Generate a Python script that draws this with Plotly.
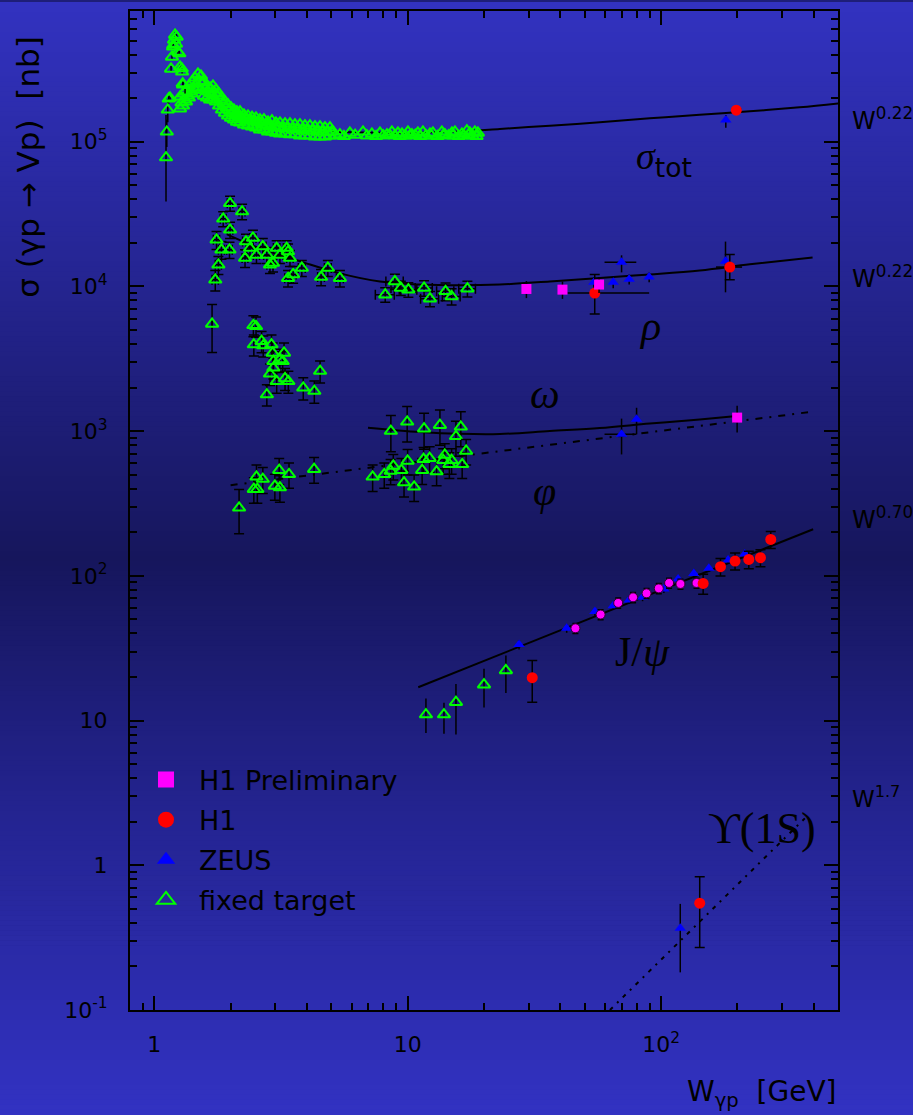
import plotly.graph_objects as go

# ---------------- DATA ----------------
# sigma_tot : fixed target, low-W resonance region
tot_ft_W_low = [1.112, 1.12, 1.13, 1.14, 1.153, 1.164, 1.174, 1.185, 1.196, 1.207, 1.218, 1.24, 1.263,
                1.287, 1.298, 1.322, 1.255, 1.283, 1.294, 1.225, 1.188]
tot_ft_s_low = [77600, 117000, 166000, 198000, 201000, 318000, 385000, 452000, 505000, 547000, 474000,
                417000, 329000, 304000, 247000, 221000, 406000, 320000, 252000, 529000, 465000]
tot_ft_eup_low = [75000, 25000, 30000, 15000, 12000, 15000, 18000, 20000, 22000, 24000, 22000, 20000,
                  16000, 15000, 12000, 11000, 18000, 15000, 12000, 24000, 20000]
tot_ft_edn_low = [39000, 25000, 30000, 15000, 12000, 15000, 18000, 20000, 22000, 24000, 22000, 20000,
                  16000, 15000, 12000, 11000, 18000, 15000, 12000, 24000, 20000]
# sigma_tot : fixed target dense band (upper / middle / lower rows)
tot_ft_W_band = [1.263, 1.298, 1.334, 1.370, 1.408, 1.447, 1.487, 1.528, 1.571, 1.614, 1.659, 1.704, 1.751,
                 1.800, 1.849, 1.900, 1.953, 2.007, 2.062, 2.119, 2.178, 2.259, 2.342, 2.429, 2.519, 2.612,
                 2.708, 2.809, 2.912, 3.020, 3.132, 3.279, 3.430, 3.589, 3.756, 3.931, 4.113, 4.304, 4.505,
                 4.714, 4.933]
tot_ft_s_up = [2.04e5, 2.14e5, 2.28e5, 2.43e5, 2.59e5, 2.76e5, 2.94e5, 2.85e5, 2.59e5, 2.43e5, 2.35e5, 2.43e5,
               2.28e5, 2.14e5, 2.01e5, 1.89e5, 1.80e5, 1.72e5, 1.66e5, 1.61e5, 1.61e5, 1.53e5, 1.51e5, 1.48e5,
               1.46e5, 1.42e5, 1.42e5, 1.37e5, 1.395e5, 1.35e5, 1.35e5, 1.33e5, 1.33e5, 1.31e5, 1.31e5, 1.29e5,
               1.29e5, 1.27e5, 1.27e5, 1.25e5, 1.25e5]
tot_ft_s_lo = [1.69e5, 1.77e5, 1.89e5, 2.01e5, 2.14e5, 2.28e5, 2.35e5, 2.28e5, 2.07e5, 2.01e5, 1.95e5, 1.95e5,
               1.89e5, 1.77e5, 1.66e5, 1.58e5, 1.51e5, 1.46e5, 1.42e5, 1.37e5, 1.35e5, 1.31e5, 1.29e5, 1.27e5,
               1.25e5, 1.21e5, 1.21e5, 1.17e5, 1.17e5, 1.15e5, 1.135e5, 1.135e5, 1.12e5, 1.12e5, 1.10e5, 1.10e5,
               1.10e5, 1.08e5, 1.08e5, 1.08e5, 1.10e5]
tot_ft_W_mid = [1.28, 1.316, 1.352, 1.389, 1.427, 1.467, 1.507, 1.549, 1.592, 1.636, 1.681, 1.727, 1.775,
                1.824, 1.874, 1.926, 1.98, 2.034, 2.09, 2.148, 2.218, 2.30, 2.385, 2.474, 2.565, 2.66, 2.758,
                2.86, 2.966, 3.076, 3.205, 3.354, 3.509, 3.672, 3.843, 4.021, 4.208, 4.404, 4.609, 4.823, 5.0]
tot_ft_s_mid = [1.86e5, 1.95e5, 2.08e5, 2.21e5, 2.36e5, 2.51e5, 2.63e5, 2.55e5, 2.32e5, 2.21e5, 2.14e5, 2.18e5,
                2.08e5, 1.95e5, 1.83e5, 1.73e5, 1.65e5, 1.58e5, 1.54e5, 1.49e5, 1.47e5, 1.42e5, 1.40e5, 1.37e5,
                1.35e5, 1.31e5, 1.31e5, 1.27e5, 1.28e5, 1.25e5, 1.24e5, 1.23e5, 1.22e5, 1.21e5, 1.20e5, 1.19e5,
                1.19e5, 1.17e5, 1.17e5, 1.16e5, 1.17e5]
# sigma_tot : fixed target, flat region
tot_ft_W_flat = [5.07, 5.40, 5.91, 6.66, 7.22, 7.77, 8.28, 8.66, 9.15, 9.49, 10.02, 10.39, 10.97, 11.48, 12.24,
                 12.57, 13.64, 14.02, 14.94, 15.36, 16.36, 17.12, 17.59, 18.41, 18.92]
tot_ft_s_flat = [1.17e5, 1.12e5, 1.15e5, 1.17e5, 1.13e5, 1.15e5, 1.12e5, 1.17e5, 1.15e5, 1.13e5, 1.17e5, 1.12e5,
                 1.15e5, 1.17e5, 1.13e5, 1.15e5, 1.17e5, 1.12e5, 1.15e5, 1.17e5, 1.13e5, 1.19e5, 1.15e5, 1.17e5,
                 1.15e5]
tot_ft_W_flat2 = [5.2, 5.6, 6.2, 6.9, 7.5, 8.0, 8.5, 8.9, 9.3, 9.8, 10.2, 10.7, 11.2, 11.8, 12.4, 13.1, 13.8,
                  14.5, 15.1, 15.9, 16.7, 17.4, 18.0, 18.7]
tot_ft_s_flat2 = [1.10e5, 1.09e5, 1.11e5, 1.10e5, 1.09e5, 1.10e5, 1.11e5, 1.10e5, 1.09e5, 1.10e5, 1.10e5, 1.11e5,
                  1.09e5, 1.10e5, 1.10e5, 1.09e5, 1.11e5, 1.10e5, 1.10e5, 1.09e5, 1.10e5, 1.11e5, 1.10e5, 1.09e5]

# rho : fixed target
rho_ft_W = [1.99, 2.22, 1.87, 1.76, 1.99, 1.84, 1.98, 1.79, 1.74, 2.28, 2.45, 2.68, 3.04, 3.37, 3.43, 2.94,
            3.37, 3.82, 3.53, 4.55, 4.84, 5.40, 2.385, 2.30, 2.53, 2.78, 3.13, 2.86, 3.33, 8.15, 8.90, 9.39,
            10.06, 11.6, 12.24, 14.1, 14.9, 17.2, 1.69]
rho_ft_s = [37500, 32900, 29300, 21000, 24600, 17900, 17900, 14100, 11100, 15700, 21600, 18900, 18400, 17400,
            15700, 14500, 11400, 13400, 12100, 11600, 13400, 11400, 18400, 20400, 16500, 16500, 16500, 14100,
            18400, 8770, 10830, 9750, 9500, 9750, 8230, 9250, 8530, 9650, 5500]
rho_ft_err = [4500, 4000, 3500, 3000, 3200, 2500, 2300, 2000, 1800, 2200, 2800, 2500, 2300, 2200, 2000, 1900,
              1500, 1700, 1600, 1500, 1700, 1500, 2300, 2500, 2100, 2100, 2100, 1800, 2300, 1000, 1300, 1100,
              1100, 1200, 1000, 1300, 1100, 1200, 2000]
rho_ft_werr = [0.05, 0.06, 0.05, 0.05, 0.05, 0.05, 0.05, 0.05, 0.05, 0.06, 0.07, 0.08, 0.09, 0.1, 0.1, 0.08,
               0.1, 0.12, 0.1, 0.14, 0.15, 0.17, 0.07, 0.07, 0.07, 0.08, 0.09, 0.08, 0.1, 0.7, 0.7, 0.8, 0.8,
               0.9, 1.0, 1.1, 1.2, 1.3, 0]

# omega : fixed target
om_ft_W = [2.46, 2.52, 2.47, 2.65, 2.69, 2.90, 2.93, 2.95, 3.13, 3.25, 2.86, 3.04, 3.28, 3.38, 2.78, 3.87,
           4.28, 4.51, 2.95, 3.21, 8.58, 9.95, 11.6, 13.4, 16.2, 15.5]
om_ft_s = [5380, 5300, 3960, 4180, 3900, 3960, 3470, 3040, 3130, 3470, 2490, 2210, 2310, 2210, 1790, 1990,
           1890, 2600, 2740, 3040, 1000, 1160, 1040, 1100, 1070, 920]
om_ft_err = [900, 850, 650, 700, 650, 650, 600, 500, 550, 600, 420, 380, 400, 380, 300, 350, 330, 450, 450,
             500, 280, 320, 290, 300, 290, 250]

# phi : fixed target
phi_ft_W = [2.16, 2.53, 2.68, 2.47, 2.55, 3.11, 2.99, 3.13, 3.40, 4.27, 7.27, 8.08, 8.77, 8.56, 9.44, 9.99,
            9.67, 10.6, 11.4, 11.55, 12.2, 13.0, 13.8, 14.0, 14.6, 14.9, 16.4, 17.0]
phi_ft_s = [295, 483, 466, 397, 397, 537, 418, 407, 503, 546, 483, 503, 575, 531, 537, 622, 441, 412, 537, 640,
            650, 525, 629, 684, 590, 629, 590, 729]
phi_ft_err = [100, 100, 95, 80, 80, 110, 85, 85, 100, 110, 100, 100, 115, 105, 110, 125, 90, 85, 110, 130, 130,
              105, 125, 135, 120, 125, 120, 145]

# J/psi : fixed target
jpsi_ft_W = [11.8, 13.9, 15.5, 20.0, 24.4]
jpsi_ft_s = [11.0, 11.0, 13.4, 17.7, 22.2]
jpsi_ft_eup = [3.2, 2.3, 4.5, 5.1, 6.0]
jpsi_ft_edn = [2.8, 2.9, 5.4, 5.4, 6.7]

# H1 preliminary (squares: rho, omega; circles: J/psi)
h1p_sq_W = [29.4, 40.8, 56.9, 199.5]
h1p_sq_s = [9600, 9500, 10300, 1240]
h1p_sq_err = [1300, 1300, 1300, 260]
h1p_ci_W = [45.9, 57.7, 67.7, 77.5, 87.6, 97.9, 107.5, 119.2, 137.9]
h1p_ci_s = [43.4, 54.0, 65.0, 71.0, 75.7, 81.9, 89.3, 87.9, 89.3]
h1p_ci_err = [3.5, 4.3, 5.2, 5.7, 6.1, 6.6, 7.1, 7.0, 7.1]

# H1 (sigma_tot, rho x2, J/psi x7, Upsilon)
h1_W = [198, 54.7, 186.6, 31.0, 146.5, 171.5, 195.8, 221.8, 246.6, 270.8, 142]
h1_s = [165000, 9000, 13600, 19.8, 88.7, 115.6, 126.6, 129.8, 133.4, 178.4, 0.547]
h1_eup = [3000, 3100, 3000, 6.2, 14, 16, 17, 18, 18, 24, 0.287]
h1_edn = [3000, 2550, 2500, 6.4, 14, 16, 17, 18, 18, 24, 0.277]
h1_wup = [0, 35, 22, 0, 0, 0, 0, 0, 0, 0, 0]
h1_wdn = [0, 12, 22, 0, 0, 0, 0, 0, 0, 0, 0]

# ZEUS (sigma_tot, rho x6, omega x2, J/psi x12, Upsilon)
zeus_W = [180, 54.3, 69.8, 64.7, 74.8, 89.7, 179.5, 69.8, 80.0,
          27.5, 42.4, 54.8, 64.7, 74.8, 84.5, 102.5, 116.7, 134.6, 154.3, 183.8, 213.8, 119]
zeus_s = [141000, 10700, 14700, 10700, 11200, 11600, 14900, 950, 1210,
          33.5, 43.4, 56.6, 62.2, 68.2, 71.0, 81.2, 95.1, 104, 113, 128.6, 141.5, 0.367]
zeus_eup = [12000, 900, 1700, 1000, 900, 900, 5500, 270, 240,
            2.5, 3, 3.5, 3.8, 4, 4.2, 5, 5.5, 6, 6.5, 7.5, 8.5, 0.174]
zeus_edn = [16000, 900, 2200, 1000, 900, 900, 5800, 260, 260,
            2.5, 3, 3.5, 3.8, 4, 4.2, 5, 5.5, 6, 6.5, 7.5, 8.5, 0.185]
zeus_werr = [0, 0, 10, 0, 0, 0, 0, 10, 0,
             0, 0, 0, 0, 0, 0, 0, 0, 0, 0, 0, 0, 0]

# fitted curves
fit_tot_W = [5.02, 9.33, 14.7, 23.1, 36.4, 57.3, 90.2, 142, 224, 352, 500]
fit_tot_s = [117000, 115000, 117000, 122400, 129000, 136000, 145000, 153500, 162000, 173000, 184000]
fit_rho_W = [1.936, 2.61, 3.76, 5.40, 7.77, 11.17, 16.07, 23.1, 36.4, 57.3, 90.2, 142, 224, 396]
fit_rho_s = [22900, 18300, 14900, 12300, 10800, 10300, 10170, 10300, 10830, 11450, 12100, 12900, 14200, 15850]
fit_om_W = [6.97, 11.17, 16.07, 23.1, 36.4, 57.3, 90.2, 142, 198.9]
fit_om_s = [1057, 987, 958, 955, 1002, 1050, 1128, 1203, 1271]
fit_phi_W = [2.0, 386]
fit_phi_s = [423, 1355]
fit_jpsi_W = [11.0, 398]
fit_jpsi_s = [17.0, 210]
fit_ups_W = [62.8, 369]
fit_ups_s = [0.1, 2.11]

# axis ticks
x_tickvals = [1, 10, 100]
x_ticktext = ["1", "10", "10<sup>2</sup>"]
y_tickvals = [0.1, 1, 10, 100, 1000, 10000, 100000]
y_ticktext = ["10<sup>-1</sup>", "1", "10", "10<sup>2</sup>", "10<sup>3</sup>", "10<sup>4</sup>", "10<sup>5</sup>"]

# ---------------- FIGURE ----------------
W_FIG, H_FIG = 913, 1115
ML, MR, MT, MB = 130, 75, 9, 105
PW, PH = W_FIG - ML - MR, H_FIG - MT - MB


def px(x):
    return (x - ML) / PW


def py(y):
    return (H_FIG - MB - y) / PH


GREEN = "#00ff00"
BLUE = "#0000ff"
RED = "#ff0000"
MAG = "#ff00ff"
FONT = "DejaVu Sans"
SERIF = "Liberation Serif"

fig = go.Figure()

eb = dict(color="black", thickness=1.5)

# fit lines
fig.add_trace(go.Scatter(x=fit_tot_W, y=fit_tot_s, mode="lines", line=dict(color="black", width=2, shape="spline"),
                         showlegend=False, hoverinfo="skip"))
fig.add_trace(go.Scatter(x=fit_rho_W, y=fit_rho_s, mode="lines", line=dict(color="black", width=2, shape="spline"),
                         showlegend=False, hoverinfo="skip"))
fig.add_trace(go.Scatter(x=fit_om_W, y=fit_om_s, mode="lines", line=dict(color="black", width=2, shape="spline"),
                         showlegend=False, hoverinfo="skip"))
fig.add_trace(go.Scatter(x=fit_phi_W, y=fit_phi_s, mode="lines",
                         line=dict(color="black", width=2, dash="7px,7px,2px,7px"),
                         showlegend=False, hoverinfo="skip"))
fig.add_trace(go.Scatter(x=fit_jpsi_W, y=fit_jpsi_s, mode="lines", line=dict(color="black", width=2),
                         showlegend=False, hoverinfo="skip"))
fig.add_trace(go.Scatter(x=fit_ups_W, y=fit_ups_s, mode="lines",
                         line=dict(color="black", width=2, dash="4px,6px,2px,6px"),
                         showlegend=False, hoverinfo="skip"))

ft_marker = dict(symbol="triangle-up-open", size=11, color=GREEN, line=dict(color=GREEN, width=2))

# fixed target sigma_tot
fig.add_trace(go.Scatter(x=tot_ft_W_band + tot_ft_W_mid + tot_ft_W_band + tot_ft_W_flat + tot_ft_W_flat2,
                         y=tot_ft_s_up + tot_ft_s_mid + tot_ft_s_lo + tot_ft_s_flat + tot_ft_s_flat2,
                         mode="markers", marker=ft_marker, showlegend=False))
fig.add_trace(go.Scatter(x=tot_ft_W_low, y=tot_ft_s_low, mode="markers", marker=ft_marker, showlegend=False,
                         error_y=dict(type="data", array=tot_ft_eup_low, arrayminus=tot_ft_edn_low, width=0, **eb)))
# fixed target rho / omega / phi / jpsi
fig.add_trace(go.Scatter(x=rho_ft_W, y=rho_ft_s, mode="markers", marker=ft_marker, showlegend=False,
                         error_y=dict(type="data", array=rho_ft_err, width=5, **eb),
                         error_x=dict(type="data", array=rho_ft_werr, width=5, **eb)))
fig.add_trace(go.Scatter(x=om_ft_W, y=om_ft_s, mode="markers", marker=ft_marker, showlegend=False,
                         error_y=dict(type="data", array=om_ft_err, width=5, **eb)))
fig.add_trace(go.Scatter(x=phi_ft_W, y=phi_ft_s, mode="markers", marker=ft_marker, showlegend=False,
                         error_y=dict(type="data", array=phi_ft_err, width=5, **eb)))
fig.add_trace(go.Scatter(x=jpsi_ft_W, y=jpsi_ft_s, mode="markers", marker=ft_marker, showlegend=False,
                         error_y=dict(type="data", array=jpsi_ft_eup, arrayminus=jpsi_ft_edn, width=0, **eb)))

# HERA
fig.add_trace(go.Scatter(x=zeus_W, y=zeus_s, mode="markers",
                         marker=dict(symbol="triangle-up", size=10, color=BLUE), showlegend=False,
                         error_y=dict(type="data", array=zeus_eup, arrayminus=zeus_edn, width=0, **eb),
                         error_x=dict(type="data", array=zeus_werr, width=0, **eb)))
fig.add_trace(go.Scatter(x=h1p_ci_W, y=h1p_ci_s, mode="markers",
                         marker=dict(symbol="circle", size=9, color=MAG, line=dict(color="#300030", width=1)),
                         showlegend=False,
                         error_y=dict(type="data", array=h1p_ci_err, width=3, **eb)))
fig.add_trace(go.Scatter(x=h1_W, y=h1_s, mode="markers",
                         marker=dict(symbol="circle", size=11, color=RED), showlegend=False,
                         error_y=dict(type="data", array=h1_eup, arrayminus=h1_edn, width=5, **eb),
                         error_x=dict(type="data", array=h1_wup, arrayminus=h1_wdn, width=0, **eb)))
fig.add_trace(go.Scatter(x=h1p_sq_W, y=h1p_sq_s, mode="markers",
                         marker=dict(symbol="square", size=10, color=MAG), showlegend=False,
                         error_y=dict(type="data", array=h1p_sq_err, width=0, **eb)))

# legend-only entries
fig.add_trace(go.Scatter(x=[None], y=[None], mode="markers", name="H1 Preliminary", legendgroup="a",
                         marker=dict(symbol="square", size=16, color=MAG)))
fig.add_trace(go.Scatter(x=[None], y=[None], mode="markers", name="H1", legendgroup="b",
                         marker=dict(symbol="circle", size=16, color=RED)))
fig.add_trace(go.Scatter(x=[None], y=[None], mode="markers", name="ZEUS", legendgroup="c",
                         marker=dict(symbol="triangle-up", size=16, color=BLUE)))
fig.add_trace(go.Scatter(x=[None], y=[None], mode="markers", name="fixed target", legendgroup="d",
                         marker=dict(symbol="triangle-up-open", size=16, color=GREEN, line=dict(color=GREEN, width=2))))


# background gradient
def bg_color(yy):
    stops = [(0, (50, 50, 192)), (250, (38, 38, 150)), (560, (22, 22, 92)), (820, (36, 36, 146)),
             (1115, (50, 50, 194))]
    for (y0, c0), (y1, c1) in zip(stops[:-1], stops[1:]):
        if y0 <= yy <= y1:
            t = (yy - y0) / (y1 - y0)
            return "rgb(%d,%d,%d)" % tuple(round(a + (b - a) * t) for a, b in zip(c0, c1))
    return "rgb(50,50,194)"


shapes = []
step = 5
for yy in range(0, H_FIG, step):
    shapes.append(dict(type="rect", xref="paper", yref="paper", x0=px(-10), x1=px(W_FIG + 10),
                       y0=py(yy + step + 0.6), y1=py(yy), fillcolor=bg_color(yy + step / 2),
                       line=dict(width=0), layer="below"))

annotations = []


def ann(text, x, y, size, family=FONT, xanchor="center", yanchor="middle", angle=0):
    annotations.append(dict(text=text, x=px(x), y=py(y), xref="paper", yref="paper", showarrow=False,
                            font=dict(family=family, size=size, color="black"), xanchor=xanchor,
                            yanchor=yanchor, textangle=angle))


ann("σ (γp → Vp)\u00a0\u00a0[nb]", 28, 165, 31, angle=-90)
ann("W<sub>γp</sub>\u00a0\u00a0[GeV]", 838, 1094, 28, xanchor="right")
ann("W<sup>0.22</sup>", 850, 117, 24, xanchor="left")
ann("W<sup>0.22</sup>", 850, 276, 24, xanchor="left")
ann("W<sup>0.70</sup>", 850, 517, 24, xanchor="left")
ann("W<sup>1.7</sup>", 850, 797, 23, xanchor="left")
ann("<i>σ</i><sub><span style='font-family:DejaVu Sans'>tot</span></sub>", 664, 157, 38, family=SERIF)
ann("<i>ρ</i>", 650, 325, 42, family=SERIF)
ann("<i>ω</i>", 545, 393, 42, family=SERIF)
ann("<i>φ</i>", 544, 490, 42, family=SERIF)
ann("J/<i>ψ</i>", 642, 651, 42, family=SERIF)
ann("ϒ(1S)", 762, 828, 44, family=SERIF)

axis_common = dict(type="log", showline=True, linecolor="black", linewidth=2, mirror="allticks",
                   ticks="inside", ticklen=14, tickwidth=1.5, tickcolor="black", showgrid=False,
                   zeroline=False, tickfont=dict(family=FONT, size=22, color="black"))

minor_vals = [m * 10 ** e for e in range(-1, 6) for m in range(2, 10)]

fig.update_xaxes(**axis_common, range=[-0.096, 2.698], tickmode="array", tickvals=x_tickvals,
                 ticktext=x_ticktext, ticklabelstandoff=14,
                 minor=dict(ticks="inside", ticklen=7, tickwidth=1.5, tickcolor="black",
                            tickmode="array", tickvals=minor_vals, showgrid=False))
fig.update_yaxes(**axis_common, range=[-1, 5.903], tickmode="array", tickvals=y_tickvals,
                 ticktext=y_ticktext, ticklabelstandoff=16,
                 minor=dict(ticks="inside", ticklen=7, tickwidth=1.5, tickcolor="black",
                            tickmode="array", tickvals=minor_vals, showgrid=False))

fig.update_layout(
    width=W_FIG, height=H_FIG,
    margin=dict(l=ML, r=MR, t=MT, b=MB),
    paper_bgcolor="rgb(30,30,120)",
    plot_bgcolor="rgba(0,0,0,0)",
    shapes=shapes,
    annotations=annotations,
    showlegend=True,
    legend=dict(x=px(133), y=py(755), xanchor="left", yanchor="top", bgcolor="rgba(0,0,0,0)",
                borderwidth=0, font=dict(family=FONT, size=27, color="black"),
                traceorder="grouped", tracegroupgap=2, itemsizing="trace", itemwidth=56),
    font=dict(family=FONT, color="black"),
)

fig.write_html("out.html")
